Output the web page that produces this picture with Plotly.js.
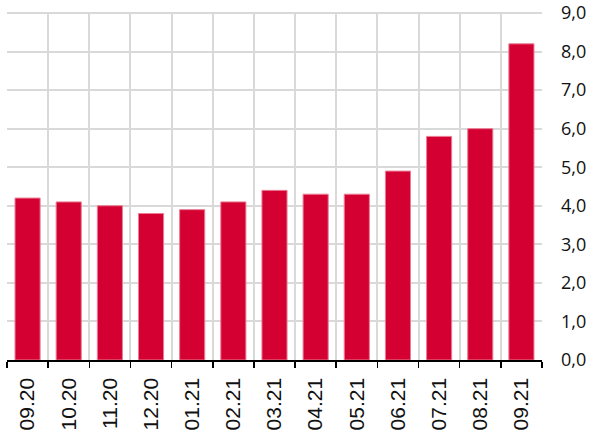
<!DOCTYPE html>
<html>
<head>
<meta charset="utf-8">
<script src="https://cdn.plot.ly/plotly-3.0.1.min.js"></script>
<style>html,body{margin:0;padding:0;background:#fff;}#chart{width:591px;height:436px;}</style>
</head>
<body>
<div id="chart"></div>
<script>
var months = ["09.20","10.20","11.20","12.20","01.21","02.21","03.21","04.21","05.21","06.21","07.21","08.21","09.21"];
var values = [4.2, 4.1, 4.0, 3.8, 3.9, 4.1, 4.4, 4.3, 4.3, 4.9, 5.8, 6.0, 8.2];
var yTicks = [0,1,2,3,4,5,6,7,8,9];

var trace = {
  type: "bar",
  x: months,
  y: values,
  marker: {color: "#d40032", line: {color: "#ea7d94", width: 1}},
  hoverinfo: "skip"
};

var layout = {
  width: 591, height: 436,
  margin: {l: 7, r: 49, t: 13, b: 76},
  paper_bgcolor: "#fff", plot_bgcolor: "#fff",
  separators: ", ",
  bargap: 0.39,
  showlegend: false,
  xaxis: {
    type: "category",
    tickson: "boundaries",
    showgrid: true, gridcolor: "#d9d9d9", gridwidth: 2,
    showline: true, linecolor: "#000", linewidth: 1.5,
    ticks: "outside", ticklen: 6, tickwidth: 1.5, tickcolor: "#000",
    ticklabelstandoff: 8,
    tickangle: -90,
    tickfont: {family: "Liberation Sans, Arial, sans-serif", size: 21, color: "#111"},
    fixedrange: true
  },
  yaxis: {
    side: "right",
    range: [0, 9],
    tickvals: yTicks,
    tickformat: ".1f",
    showgrid: true, gridcolor: "#d9d9d9", gridwidth: 2,
    zeroline: false, showline: false,
    ticks: "", ticklabelstandoff: 18,
    tickfont: {family: "Open Sans, sans-serif", size: 18, color: "#111"},
    fixedrange: true
  },
  shapes: [
    {type: "line", xref: "paper", yref: "paper", x0: 0, x1: 1, y0: 1, y1: 1, line: {color: "#d9d9d9", width: 2}, layer: "below"}
  ]
};

Plotly.newPlot("chart", [trace], layout, {displayModeBar: false, staticPlot: true});
</script>
</body>
</html>
